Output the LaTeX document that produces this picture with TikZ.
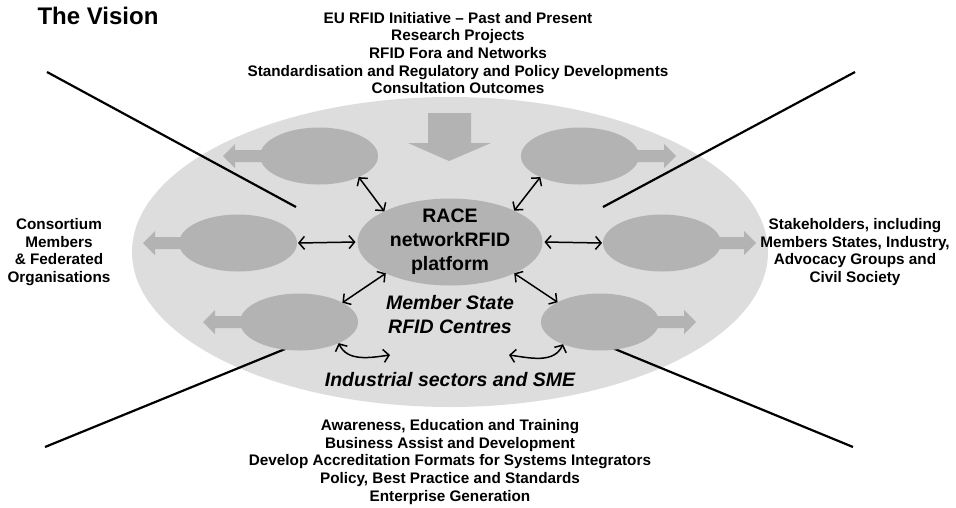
\documentclass[tikz,border=0pt]{standalone}
\usepackage{fontspec}
\setmainfont{Liberation Sans}
\usetikzlibrary{arrows.meta,shapes.geometric}
\definecolor{bigfill}{RGB}{221,221,221}
\definecolor{smallfill}{RGB}{179,179,179}
\begin{document}
\begin{tikzpicture}[x=1pt,y=-1pt,
  sm/.style={ellipse, fill=smallfill, minimum width=118pt, minimum height=57pt, inner sep=0pt, outer sep=0pt},
  blk/.style={fill=smallfill},
  dbl/.style={{Straight Barb[length=5.5pt,width=13pt]}-{Straight Barb[length=5.5pt,width=13pt]}, line width=1.5pt},
  diag/.style={line width=2.2pt},
  lbl/.style={font=\bfseries\fontsize{15.3}{17.7}\selectfont, align=center, inner sep=0pt},
  bigtxt/.style={font=\bfseries\fontsize{19.5}{24}\selectfont, align=center, inner sep=0pt},
  ittxt/.style={font=\bfseries\itshape\fontsize{19.5}{24}\selectfont, align=center, inner sep=0pt}]
\useasboundingbox (0,0) rectangle (956,507);

% background ellipse
\node[ellipse, fill=bigfill, minimum width=636pt, minimum height=310pt, inner sep=0pt] (bg) at (450,252) {};

% diagonal lines
\coordinate (dA1) at (47,72);   \coordinate (dA2) at (296,207);
\coordinate (dB1) at (855,72);  \coordinate (dB2) at (603,207);
\coordinate (dC1) at (45,447);  \coordinate (dC2) at (290,347);
\coordinate (dD1) at (853,447); \coordinate (dD2) at (610,347);
\draw[diag] (dA1) -- (dA2);
\draw[diag] (dB1) -- (dB2);
\draw[diag] (dC1) -- (dC2);
\draw[diag] (dD1) -- (dD2);

% block arrows
\fill[blk] (270,150) -- (235,150) -- (235,144) -- (223,156) -- (235,168) -- (235,162) -- (270,162) -- cycle;
\fill[blk] (190,237) -- (155,237) -- (155,231) -- (143,243) -- (155,255) -- (155,249) -- (190,249) -- cycle;
\fill[blk] (251,316) -- (215,316) -- (215,310) -- (203,322) -- (215,334) -- (215,328) -- (251,328) -- cycle;
\fill[blk] (629,150) -- (664,150) -- (664,144) -- (676,156) -- (664,168) -- (664,162) -- (629,162) -- cycle;
\fill[blk] (710,237) -- (744,237) -- (744,231) -- (756,243) -- (744,255) -- (744,249) -- (710,249) -- cycle;
\fill[blk] (648,316) -- (684,316) -- (684,310) -- (696,322) -- (684,334) -- (684,328) -- (648,328) -- cycle;
\fill[blk] (428,113) -- (471,113) -- (471,143) -- (491,143) -- (449,161) -- (408,143) -- (428,143) -- cycle;

% ellipses
\node[sm] (tl) at (319,156) {};
\node[sm] (tr) at (580,156) {};
\node[sm] (ml) at (238,243) {};
\node[sm] (mr) at (662,243) {};
\node[sm] (bl) at (299,322) {};
\node[sm] (br) at (600,322) {};
\node[ellipse, fill=smallfill, minimum width=185pt, minimum height=87pt, inner sep=0pt, outer sep=0pt] (c) at (450,242) {};

% double arrows
\draw[dbl] (tl.-28) -- (c.155);
\draw[dbl] (tr.-152) -- (c.26);
\draw[dbl] ([xshift=1pt]ml.0) -- ([xshift=-2pt]c.180);
\draw[dbl] ([xshift=2pt]c.0) -- ([xshift=-1pt]mr.180);
\draw[dbl] (bl.24) -- (c.-154);
\draw[dbl] (c.-26) -- (br.155);

% curved arrows
\coordinate (cl) at (390,355);
\coordinate (cr) at (509,355);
\draw[dbl] (bl.-28) to[out=-65, in=188] (cl);
\draw[dbl] (cr) to[out=-8, in=-115] (br.-149);

% texts
\node[font=\bfseries\fontsize{24}{28}\selectfont, inner sep=0pt] (title) at (98,16) {The Vision};
\node[lbl] (toptxt) at (458,53) {EU RFID Initiative -- Past and Present\\Research Projects\\RFID Fora and Networks\\Standardisation and Regulatory and Policy Developments\\Consultation Outcomes};
\node[lbl] (bottxt) at (450,462) {Awareness, Education and Training\\Business Assist and Development\\Develop Accreditation Formats for Systems Integrators\\Policy, Best Practice and Standards\\Enterprise Generation};
\node[lbl] (lefttxt) at (59,252) {Consortium\\Members\\\& Federated\\Organisations};
\node[lbl] (righttxt) at (855,252) {Stakeholders, including\\Members States, Industry,\\Advocacy Groups and\\Civil Society};
\node[bigtxt] (race) at (450,242) {RACE\\networkRFID\\platform};
\node[ittxt] (msc) at (450,315) {Member State\\RFID Centres};
\node[ittxt] (ind) at (450,380) {Industrial sectors and SME};
\end{tikzpicture}
\end{document}
